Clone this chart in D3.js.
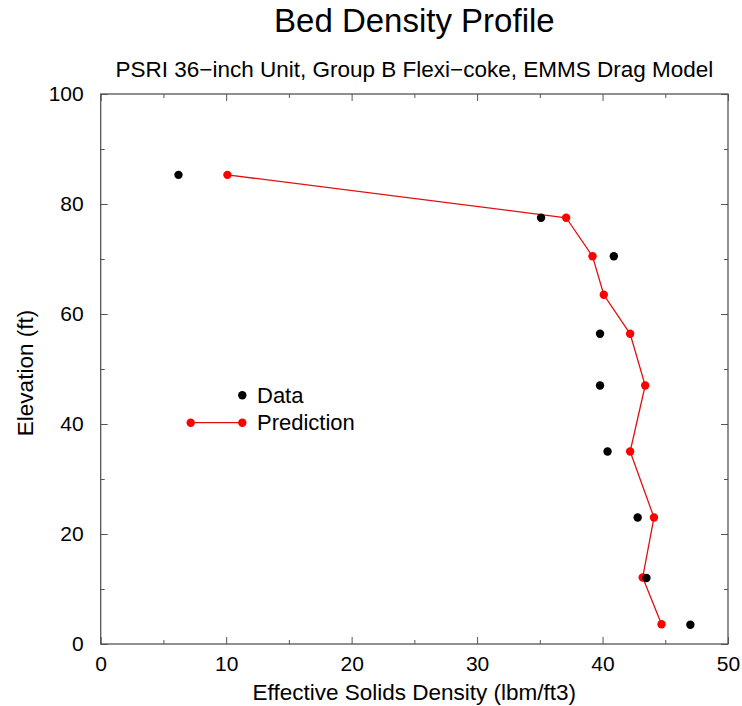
<!DOCTYPE html>
<html>
<head>
<meta charset="utf-8">
<script src="https://cdn.jsdelivr.net/npm/d3@7"></script>
<style>
  body { margin: 0; background: #fff; }
  text { font-family: "Liberation Sans", Arial, sans-serif; fill: #000; }
</style>
</head>
<body>
<div id="chart"></div>
<script>
// data
var dataDensity   = [6.2, 35.1, 40.9, 39.8, 39.8, 40.4, 42.8, 43.5, 47.0];
var dataElevation = [85.3, 77.5, 70.5, 56.4, 47.0, 35.0, 23.0, 12.0, 3.5];

var predDensity   = [10.1, 37.1, 39.2, 40.1, 42.2, 43.4, 42.2, 44.1, 43.2, 44.7];
var predElevation = [85.3, 77.5, 70.5, 63.5, 56.4, 47.0, 35.0, 23.0, 12.1, 3.6];

var xMajor = [0, 10, 20, 30, 40, 50];
var xMinor = [5, 15, 25, 35, 45];
var yMajor = [0, 20, 40, 60, 80, 100];
var yMinor = [10, 30, 50, 70, 90];

var W = 742, H = 706;
var margin = {top: 94, right: 14, bottom: 62, left: 100.7},
    width = W - margin.left - margin.right,
    height = H - margin.top - margin.bottom;

var svg = d3.select("#chart").append("svg")
    .attr("width", W)
    .attr("height", H);

var g = svg.append("g")
    .attr("transform", "translate(" + margin.left + "," + margin.top + ")");

var x = d3.scaleLinear().domain([0, 50]).range([0, width]);
var y = d3.scaleLinear().domain([0, 100]).range([height, 0]);

var axisColor = "#555";

// inward ticks on all four sides
function styleAxis(sel) {
  sel.select(".domain").remove();
  sel.selectAll(".tick line").attr("stroke", axisColor).attr("stroke-width", 1);
  sel.selectAll(".tick text").style("font-size", "21px");
}

g.append("g").attr("transform", "translate(0," + height + ")")
  .call(d3.axisBottom(x).tickValues(xMajor).tickSizeInner(-7).tickPadding(12).tickFormat(d3.format("d")))
  .call(styleAxis);
g.append("g").attr("transform", "translate(0," + height + ")")
  .call(d3.axisBottom(x).tickValues(xMinor).tickSizeInner(-4).tickFormat(""))
  .call(styleAxis);
g.append("g")
  .call(d3.axisTop(x).tickValues(xMajor).tickSizeInner(-7).tickFormat(""))
  .call(styleAxis);
g.append("g")
  .call(d3.axisTop(x).tickValues(xMinor).tickSizeInner(-4).tickFormat(""))
  .call(styleAxis);

g.append("g")
  .call(d3.axisLeft(y).tickValues(yMajor).tickSizeInner(-7).tickPadding(17).tickFormat(d3.format("d")))
  .call(styleAxis);
g.append("g")
  .call(d3.axisLeft(y).tickValues(yMinor).tickSizeInner(-4).tickFormat(""))
  .call(styleAxis);
g.append("g").attr("transform", "translate(" + width + ",0)")
  .call(d3.axisRight(y).tickValues(yMajor).tickSizeInner(-7).tickFormat(""))
  .call(styleAxis);
g.append("g").attr("transform", "translate(" + width + ",0)")
  .call(d3.axisRight(y).tickValues(yMinor).tickSizeInner(-4).tickFormat(""))
  .call(styleAxis);

// frame
g.append("rect")
  .attr("width", width).attr("height", height)
  .attr("fill", "none").attr("stroke", axisColor).attr("stroke-width", 1.3);

// prediction line + markers
var pred = predDensity.map(function(d, i) { return [d, predElevation[i]]; });
var line = d3.line().x(function(d) { return x(d[0]); }).y(function(d) { return y(d[1]); });

g.append("path")
  .datum(pred)
  .attr("d", line)
  .attr("fill", "none")
  .attr("stroke", "#e01010")
  .attr("stroke-width", 1.3);

g.selectAll(".pred")
  .data(pred)
  .enter().append("circle")
  .attr("cx", function(d) { return x(d[0]); })
  .attr("cy", function(d) { return y(d[1]); })
  .attr("r", 4.2)
  .attr("fill", "#ff0000");

// measured data
g.selectAll(".dat")
  .data(dataDensity)
  .enter().append("circle")
  .attr("cx", function(d) { return x(d); })
  .attr("cy", function(d, i) { return y(dataElevation[i]); })
  .attr("r", 4.2)
  .attr("fill", "#000");

// legend
var lg = svg.append("g");
lg.append("circle").attr("cx", 242.3).attr("cy", 395.3).attr("r", 4.2).attr("fill", "#000");
lg.append("text").attr("x", 257).attr("y", 395.3).attr("dy", "0.35em")
  .style("font-size", "22px").text("Data");
lg.append("line").attr("x1", 190.7).attr("x2", 242.3).attr("y1", 422.7).attr("y2", 422.7)
  .attr("stroke", "#e01010").attr("stroke-width", 1.3);
lg.append("circle").attr("cx", 190.7).attr("cy", 422.7).attr("r", 4.2).attr("fill", "#ff0000");
lg.append("circle").attr("cx", 242.3).attr("cy", 422.7).attr("r", 4.2).attr("fill", "#ff0000");
lg.append("text").attr("x", 257).attr("y", 422.7).attr("dy", "0.35em")
  .style("font-size", "22px").text("Prediction");

// titles
svg.append("text")
  .attr("x", margin.left + width / 2).attr("y", 31.7)
  .attr("text-anchor", "middle")
  .style("font-size", "33px")
  .text("Bed Density Profile");

svg.append("text")
  .attr("x", margin.left + width / 2).attr("y", 77.3)
  .attr("text-anchor", "middle")
  .style("font-size", "22.5px")
  .text("PSRI 36\u2212inch Unit, Group B Flexi\u2212coke, EMMS Drag Model");

svg.append("text")
  .attr("x", margin.left + width / 2).attr("y", 700)
  .attr("text-anchor", "middle")
  .style("font-size", "22.5px")
  .text("Effective Solids Density (lbm/ft3)");

svg.append("text")
  .attr("transform", "translate(32.5,373) rotate(-90)")
  .attr("text-anchor", "middle")
  .style("font-size", "22.5px")
  .text("Elevation (ft)");
</script>
</body>
</html>
